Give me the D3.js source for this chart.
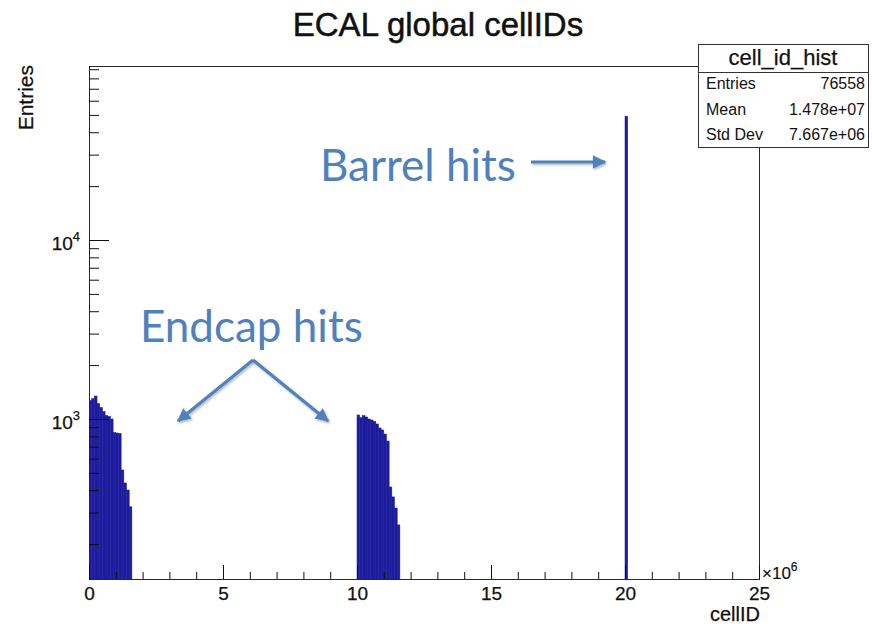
<!DOCTYPE html>
<html>
<head>
<meta charset="utf-8">
<script src="https://cdn.jsdelivr.net/npm/d3@7/dist/d3.min.js"></script>
<style>
  html, body { margin: 0; padding: 0; background: #fff; }
  svg { display: block; }
</style>
</head>
<body>
<svg id="chart" width="872" height="624"></svg>
<script>
// ---- histogram data (cellID bins of width 1e5) ----
const binWidth = 1e5;
const endcapAStart = 0;
const endcapACounts = [1270, 1300, 1344, 1220, 1160, 1100, 1045, 1035, 1000, 840, 835, 830, 519, 439, 401, 323];
const endcapBStart = 10e6;
const endcapBCounts = [1053, 1019, 1046, 1026, 1000, 987, 968, 938, 891, 868, 824, 753, 417, 367, 318, 256];
const barrelStart = 20e6;
const barrelCounts = [49166];

// ---- axis ticks ----
const xMajorTicks = [0, 5e6, 10e6, 15e6, 20e6, 25e6];
const xMinorTicks = d3.range(0, 25e6 + 1, 1e6);
const yMajorTicks = [1e3, 1e4];
const yMajorLabels = [{ base: "10", exp: "3" }, { base: "10", exp: "4" }];
const yMinorTicks = [2, 3, 4, 5, 6, 7, 8, 9].flatMap(m => [m * 1e2, m * 1e3, m * 1e4]);

// ---- statistics box ----
const histName = "cell_id_hist";
const statLabels = ["Entries", "Mean", "Std Dev"];
const statValues = ["76558", "1.478e+07", "7.667e+06"];

// ---- texts ----
const titleText = "ECAL global cellIDs";
const xTitle = "cellID";
const yTitle = "Entries";

// ---- layout ----
const frame = { left: 89, right: 759, top: 66, bottom: 580 };
const helv = "'Liberation Sans', Arial, Helvetica, sans-serif";
const noteFont = "Lato, 'Open Sans', sans-serif";
const noteColor = "#4f81bd";
const histFill = "#1c1c9c";
const ink = "#111";

const svg = d3.select("#chart");
svg.append("rect").attr("width", 872).attr("height", 624).attr("fill", "#fff");

const x = d3.scaleLinear().domain([0, 25e6]).range([frame.left, frame.right]);
const y = d3.scaleLog().domain([126, 93800]).range([frame.bottom, frame.top]);

// build bin records from the count arrays
function makeBins(start, counts) {
  return counts.map((c, i) => ({ x0: start + i * binWidth, x1: start + (i + 1) * binWidth, n: c }));
}
const bins = [
  ...makeBins(endcapAStart, endcapACounts),
  ...makeBins(endcapBStart, endcapBCounts),
  ...makeBins(barrelStart, barrelCounts)
];

const defs = svg.append("defs");
defs.append("clipPath").attr("id", "plotClip")
  .append("rect")
  .attr("x", frame.left).attr("y", frame.top)
  .attr("width", frame.right - frame.left).attr("height", frame.bottom - frame.top);

// histogram bars (thin same-colour stroke closes the seams between bins)
const hist = svg.append("g").attr("clip-path", "url(#plotClip)");
hist.selectAll("rect.bin")
  .data(bins)
  .join("rect")
  .attr("class", "bin")
  .attr("x", d => x(d.x0))
  .attr("width", d => x(d.x1) - x(d.x0))
  .attr("y", d => y(d.n))
  .attr("height", d => frame.bottom - y(d.n))
  .attr("fill", histFill)
  .attr("stroke", histFill)
  .attr("stroke-width", 0.5);

// histogram outline running along the zero level
svg.append("line")
  .attr("x1", frame.left).attr("x2", frame.right)
  .attr("y1", frame.bottom - 0.5).attr("y2", frame.bottom - 0.5)
  .attr("stroke", "#24247a").attr("stroke-width", 1);

// frame
svg.append("rect")
  .attr("x", frame.left + 0.5).attr("y", frame.top + 0.5)
  .attr("width", frame.right - frame.left).attr("height", frame.bottom - frame.top - 1)
  .attr("fill", "none").attr("stroke", "#2a2a2a").attr("stroke-width", 1);

// x axis: minor then major ticks, pointing inward
svg.append("g")
  .attr("transform", `translate(0,${frame.bottom - 1})`)
  .call(d3.axisBottom(x).tickValues(xMinorTicks).tickSizeInner(-7).tickSizeOuter(0).tickFormat(""))
  .call(g => g.select(".domain").remove())
  .call(g => g.selectAll("line").attr("stroke", ink));

const xAxisG = svg.append("g")
  .attr("transform", `translate(0,${frame.bottom - 1})`)
  .call(d3.axisBottom(x).tickValues(xMajorTicks).tickSizeInner(-14).tickSizeOuter(0).tickPadding(6)
    .tickFormat(d => d3.format("d")(d / 1e6)));
xAxisG.select(".domain").remove();
xAxisG.selectAll("line").attr("stroke", ink);
xAxisG.selectAll("text")
  .attr("font-family", helv).attr("font-size", 19).attr("fill", ink)
  .attr("stroke", ink).attr("stroke-width", 0.25)
  .attr("dy", "0.78em");

// x10^6 multiplier
const mult = svg.append("text")
  .attr("x", frame.right + 3).attr("y", frame.bottom - 1)
  .attr("font-family", helv).attr("font-size", 17).attr("fill", ink)
  .attr("stroke", ink).attr("stroke-width", 0.2);
mult.append("tspan").text("\u00d710");
mult.append("tspan").attr("dy", -8).attr("font-size", 12).text("6");

// x title
svg.append("text")
  .attr("x", frame.right + 1).attr("y", 621)
  .attr("text-anchor", "end")
  .attr("font-family", helv).attr("font-size", 20).attr("fill", ink)
  .attr("stroke", ink).attr("stroke-width", 0.25)
  .text(xTitle);

// y axis: minor then major ticks, pointing inward
svg.append("g")
  .attr("transform", `translate(${frame.left},0)`)
  .call(d3.axisLeft(y).tickValues(yMinorTicks.filter(v => v > y.domain()[0] && v < y.domain()[1]))
    .tickSizeInner(-10).tickSizeOuter(0).tickFormat(""))
  .call(g => g.select(".domain").remove())
  .call(g => g.selectAll("line").attr("stroke", ink));

svg.append("g")
  .attr("transform", `translate(${frame.left},0)`)
  .call(d3.axisLeft(y).tickValues(yMajorTicks).tickSizeInner(-20).tickSizeOuter(0).tickFormat(""))
  .call(g => g.select(".domain").remove())
  .call(g => g.selectAll("line").attr("stroke", ink));

// y tick labels written as powers of ten
yMajorTicks.forEach((v, i) => {
  const t = svg.append("text")
    .attr("x", frame.left - 9).attr("y", y(v) + 10)
    .attr("text-anchor", "end")
    .attr("font-family", helv).attr("font-size", 19).attr("fill", ink)
    .attr("stroke", ink).attr("stroke-width", 0.25);
  t.append("tspan").text(yMajorLabels[i].base);
  t.append("tspan").attr("dy", -9).attr("font-size", 13).text(yMajorLabels[i].exp);
});

// y title
svg.append("text")
  .attr("transform", `translate(33,${frame.top - 1}) rotate(-90)`)
  .attr("text-anchor", "end")
  .attr("font-family", helv).attr("font-size", 21).attr("fill", ink)
  .attr("stroke", ink).attr("stroke-width", 0.25)
  .text(yTitle);

// title
svg.append("text")
  .attr("x", 438).attr("y", 36)
  .attr("text-anchor", "middle")
  .attr("font-family", helv).attr("font-size", 33).attr("fill", ink)
  .attr("stroke", ink).attr("stroke-width", 0.5)
  .text(titleText);

// statistics box
const box = { x: 698, y: 44, w: 170, h: 103, head: 28 };
const stats = svg.append("g");
stats.append("rect")
  .attr("x", box.x + 0.5).attr("y", box.y + 0.5).attr("width", box.w).attr("height", box.h)
  .attr("fill", "#fff").attr("stroke", "#333");
stats.append("line")
  .attr("x1", box.x).attr("x2", box.x + box.w)
  .attr("y1", box.y + box.head + 0.5).attr("y2", box.y + box.head + 0.5)
  .attr("stroke", "#333");
stats.append("text")
  .attr("x", box.x + box.w / 2).attr("y", box.y + 21)
  .attr("text-anchor", "middle")
  .attr("font-family", helv).attr("font-size", 22).attr("fill", ink)
  .attr("stroke", ink).attr("stroke-width", 0.25)
  .text(histName);
statLabels.forEach((lab, i) => {
  const by = box.y + 45 + i * 25.5;
  stats.append("text").attr("x", box.x + 8).attr("y", by)
    .attr("font-family", helv).attr("font-size", 16).attr("fill", ink).text(lab);
  stats.append("text").attr("x", box.x + box.w - 3).attr("y", by)
    .attr("text-anchor", "end")
    .attr("font-family", helv).attr("font-size", 16).attr("fill", ink).text(statValues[i]);
});

// annotations
defs.append("marker")
  .attr("id", "head").attr("viewBox", "0 0 10 10")
  .attr("refX", 9).attr("refY", 5)
  .attr("markerWidth", 4.6).attr("markerHeight", 4.2)
  .attr("markerUnits", "strokeWidth")
  .attr("orient", "auto")
  .append("path").attr("d", "M0,0 L10,5 L0,10 Z").attr("fill", noteColor);
const shadow = defs.append("filter").attr("id", "shade")
  .attr("filterUnits", "userSpaceOnUse")
  .attr("x", 0).attr("y", 0).attr("width", 872).attr("height", 624);
shadow.append("feDropShadow")
  .attr("dx", 1.2).attr("dy", 1.5).attr("stdDeviation", 1.2)
  .attr("flood-color", "#000").attr("flood-opacity", 0.3);

const notes = svg.append("g");
notes.append("text")
  .attr("x", 320).attr("y", 181)
  .attr("font-family", noteFont).attr("font-size", 44).attr("fill", noteColor)
  .text("Barrel hits");
notes.append("text")
  .attr("x", 140).attr("y", 342)
  .attr("font-family", noteFont).attr("font-size", 44).attr("fill", noteColor)
  .text("Endcap hits");

const arrows = [
  { x1: 531, y1: 162, x2: 605, y2: 162 },
  { x1: 253, y1: 360, x2: 178, y2: 421 },
  { x1: 253, y1: 360, x2: 328, y2: 421 }
];
notes.selectAll("line.arrow")
  .data(arrows)
  .join("line")
  .attr("class", "arrow")
  .attr("x1", d => d.x1).attr("y1", d => d.y1)
  .attr("x2", d => d.x2).attr("y2", d => d.y2)
  .attr("stroke", noteColor).attr("stroke-width", 3.2)
  .attr("marker-end", "url(#head)")
  .attr("filter", "url(#shade)");
</script>
</body>
</html>
